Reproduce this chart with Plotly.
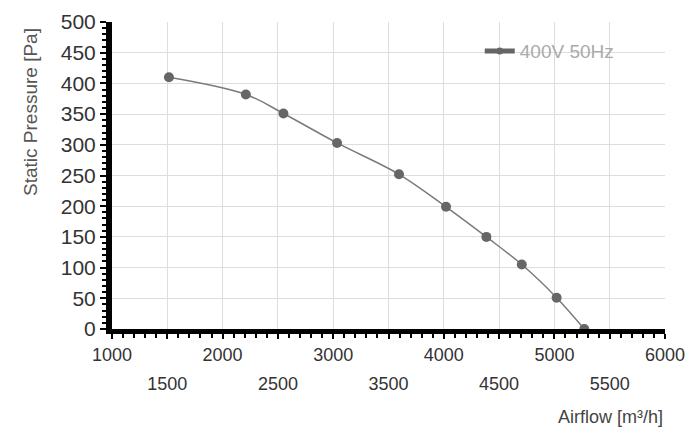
import plotly.graph_objects as go

# fan curve
airflow = [1515, 2210, 2550, 3035, 3595, 4020, 4385, 4705, 5020, 5270]
pressure = [410, 382, 351, 303, 252, 199, 150, 105, 51, 0]
series_name = "400V 50Hz"

x_ticks_top = [1000, 2000, 3000, 4000, 5000, 6000]
x_ticks_bottom = [1500, 2500, 3500, 4500, 5500]
y_ticks = [0, 50, 100, 150, 200, 250, 300, 350, 400, 450, 500]

fig = go.Figure()
fig.add_trace(go.Scatter(x=airflow, y=pressure, mode="lines+markers",
                         line=dict(color="#7a7a7a", width=1.5, shape="spline"),
                         marker=dict(color="#666666", size=10),
                         showlegend=False, cliponaxis=False))
# legend entry only (thicker line like the original), sits on the second x axis
fig.add_trace(go.Scatter(x=[None], y=[None], mode="lines+markers", name=series_name,
                         xaxis="x2",
                         line=dict(color="#666666", width=5),
                         marker=dict(color="#666666", size=7)))

fig.update_layout(
    width=700, height=448,
    margin=dict(l=104, r=43, t=14, b=127),
    paper_bgcolor="white", plot_bgcolor="white",
    font=dict(family="Liberation Sans, Arial, sans-serif", color="#333333"),
    legend=dict(x=0.665, y=0.905, xanchor="left", yanchor="middle",
                bgcolor="rgba(0,0,0,0)", font=dict(size=19, color="#aaaaaa")),
    xaxis=dict(range=[1000, 6000], tickvals=x_ticks_bottom + x_ticks_top,
               ticktext=[""] * len(x_ticks_bottom) + [str(v) for v in x_ticks_top],
               showgrid=True, gridcolor="#dddddd", gridwidth=1,
               showline=True, linecolor="black", linewidth=5,
               ticks="outside", ticklen=5, tickwidth=2, tickcolor="black",
               minor=dict(dtick=100, ticks="outside", ticklen=4, tickwidth=2, tickcolor="black"),
               tickfont=dict(size=18, color="#333333"), zeroline=False, automargin=False),
    xaxis2=dict(range=[1000, 6000], overlaying="x", side="bottom", anchor="y",
                tickvals=x_ticks_bottom, ticktext=[str(v) for v in x_ticks_bottom],
                showgrid=False, showline=False, ticks="", ticklabelstandoff=42,
                tickfont=dict(size=18, color="#333333"), zeroline=False, automargin=False),
    yaxis=dict(range=[0, 500], tickvals=y_ticks,
               showgrid=True, gridcolor="#dddddd", gridwidth=1,
               showline=True, linecolor="black", linewidth=6,
               ticks="outside", ticklen=6, tickwidth=2, tickcolor="black",
               minor=dict(dtick=10, ticks="outside", ticklen=4, tickwidth=2, tickcolor="black"),
               tickfont=dict(size=21, color="#333333"), zeroline=False, automargin=False),
)
fig.add_annotation(text="Static Pressure [Pa]", xref="paper", yref="paper",
                   x=-0.1465, y=0.707, xanchor="center", yanchor="middle",
                   textangle=-90, showarrow=False,
                   font=dict(size=19, color="#555555"))
fig.add_annotation(text="Airflow [m³/h]", xref="paper", yref="paper",
                   x=1, y=-0.287, xanchor="right", yanchor="middle", showarrow=False,
                   font=dict(size=18, color="#444444"))

fig.write_html("out.html")
